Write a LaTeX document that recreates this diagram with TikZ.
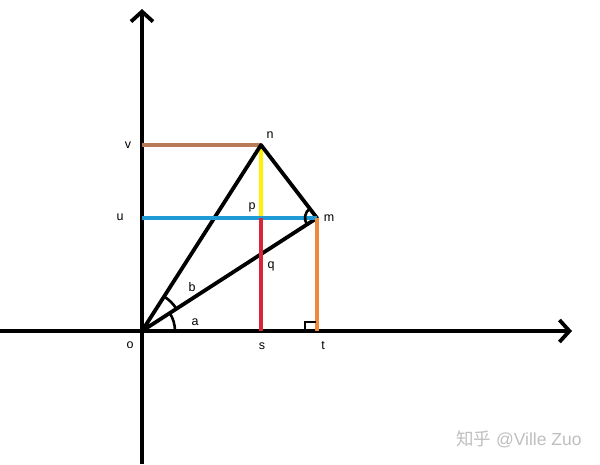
\documentclass[tikz,border=0pt]{standalone}
\usepackage{fontspec}
\setmainfont{Liberation Sans}
\newfontfamily\cjk{Noto Sans CJK SC}
\usetikzlibrary{arrows.meta}
\definecolor{cbrown}{HTML}{B97A57}
\definecolor{cyellow}{HTML}{FFF200}
\definecolor{cblue}{HTML}{1E9BD7}
\definecolor{cred}{HTML}{D6263A}
\definecolor{corange}{HTML}{F0883A}
\begin{document}
\begin{tikzpicture}[x=1pt,y=-1pt,
  axis/.style={line width=3.8pt,-{Straight Barb[length=10pt,width=22pt,line width=3.8pt]}},
  seg/.style={line width=3.8pt},
  cseg/.style={line width=3.4pt},
  lab/.style={font=\fontsize{12.5}{14}\selectfont,inner sep=0pt},
  anglemark/.style={line width=2.6pt}]
\useasboundingbox (0,0) rectangle (600,464);
\fill[white] (0,0) rectangle (600,464);
% points
\coordinate (O) at (142,331);
\coordinate (N) at (261,145);
\coordinate (M) at (317,218);
\coordinate (S) at (261,331);
\coordinate (T) at (317,331);
\coordinate (V) at (142,145);
\coordinate (U) at (142,218);
\coordinate (P) at (261,218);
\coordinate (XL) at (0,331);
\coordinate (XR) at (572,331);
\coordinate (YB) at (142,464);
\coordinate (YT) at (142,9);
% axes
\draw[axis] (XL) -- (XR);
\draw[axis] (YB) -- (YT);
% coloured segments
\draw[cseg,cbrown] (V) -- (N);
\draw[cseg,cyellow] (N) -- (P);
% black segments
\draw[seg,line cap=round,line join=round] (O) -- (N) -- (M) -- cycle;
\draw[cseg,cblue] (U) -- (M);
\draw[cseg,cred] (P) -- (S);
\draw[cseg,corange] (M) -- (T);
% angle marks
\draw[anglemark] (O) ++(33,0) arc[start angle=0,end angle=-32.9,radius=33];
\draw[anglemark] (O) ++(-32.9:41) arc[start angle=-32.9,end angle=-57.5,radius=41];
\draw[anglemark] (M) ++(-127:12) arc[start angle=-127,end angle=-213,radius=12];
\draw[anglemark] (305,331) -- (305,322) -- (316,322);
% labels
\node[lab] (ln) at (270,135) {n};
\node[lab] (lm) at (329,218) {m};
\node[lab] (lp) at (252,207) {p};
\node[lab] (lq) at (271,266) {q};
\node[lab] (lv) at (128,145) {v};
\node[lab] (lu) at (120,217) {u};
\node[lab] (lo) at (130,345) {o};
\node[lab] (ls) at (262,346) {s};
\node[lab] (lt) at (323,346) {t};
\node[lab] (la) at (195,322) {a};
\node[lab] (lb) at (192,287) {b};
\node[inner sep=0pt,text=black!25,font=\fontsize{17.5}{20}\selectfont,anchor=west] (wm) at (456,439) {{\cjk 知乎} @Ville Zuo};
\end{tikzpicture}
\end{document}
